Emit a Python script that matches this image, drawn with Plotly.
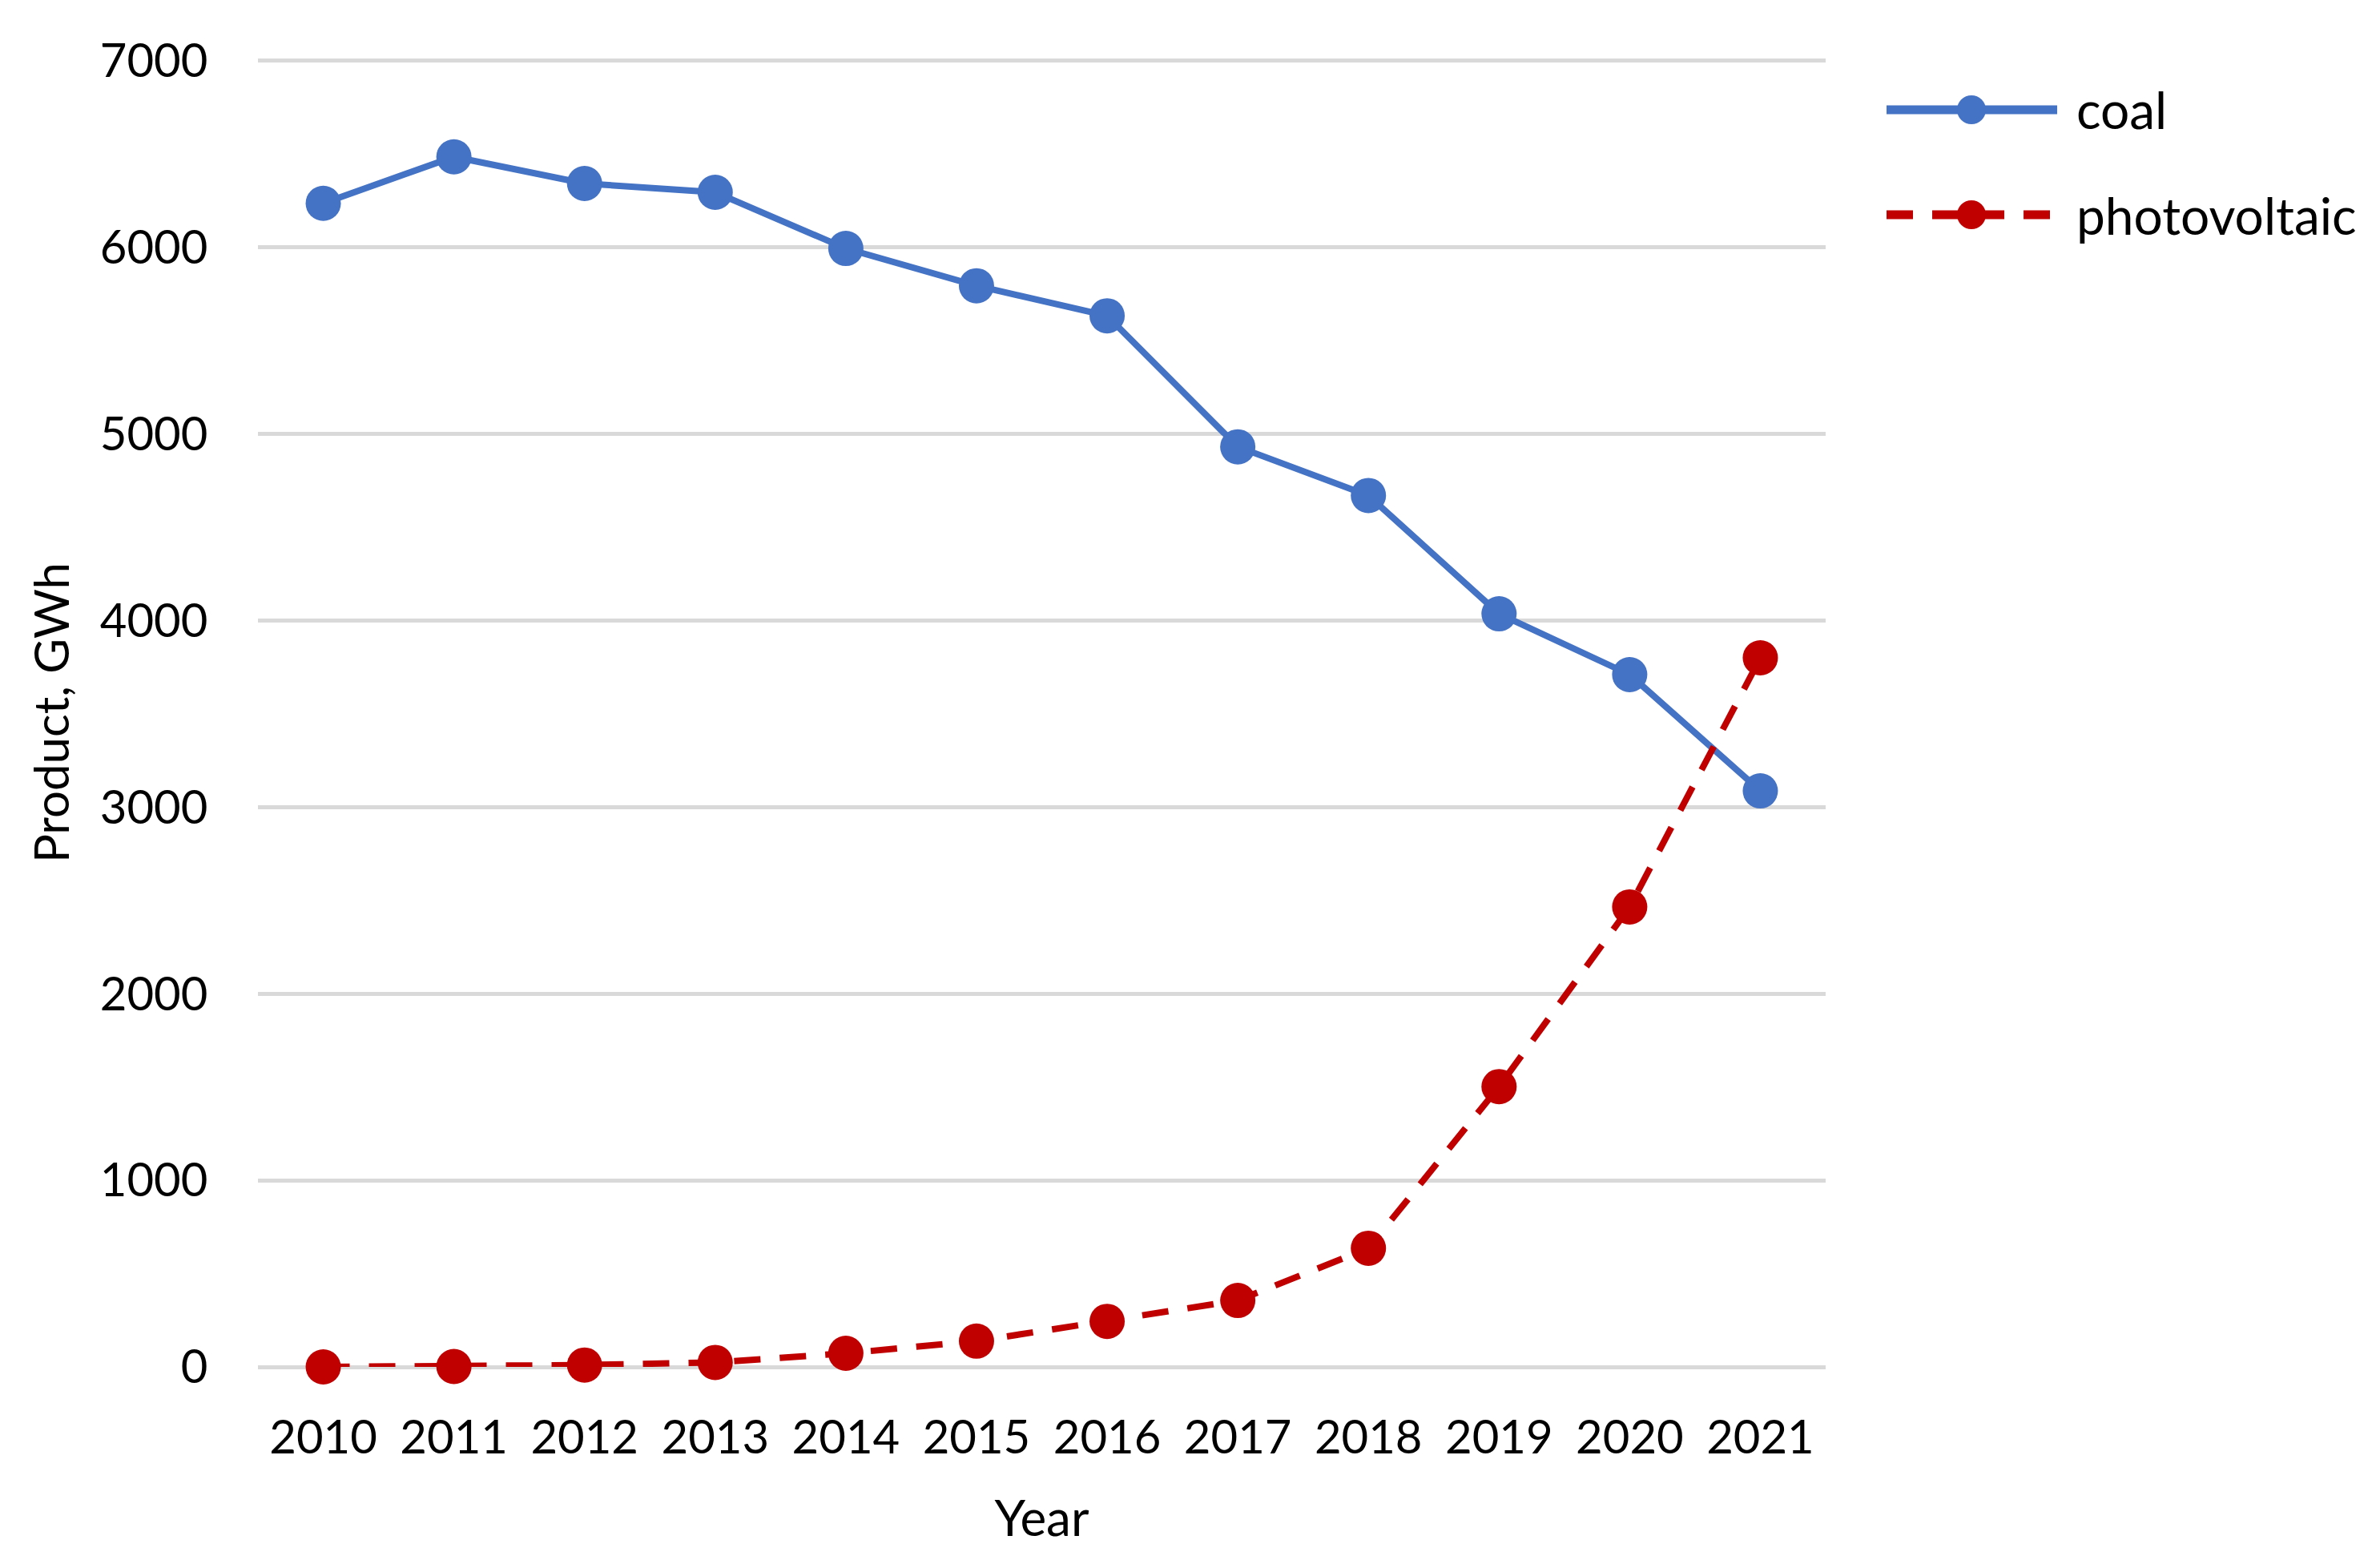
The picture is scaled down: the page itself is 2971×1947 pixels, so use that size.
import plotly.graph_objects as go

years = ["2010", "2011", "2012", "2013", "2014", "2015", "2016", "2017", "2018", "2019", "2020", "2021"]
coal = [6236, 6485, 6342, 6295, 5994, 5794, 5633, 4931, 4670, 4036, 3710, 3087]
photovoltaic = [0, 2, 10, 24, 73, 138, 244, 356, 636, 1502, 2465, 3800]
y_ticks = [0, 1000, 2000, 3000, 4000, 5000, 6000, 7000]

BLUE = "#4472C4"
RED = "#C00000"
FONT = "Lato"

W, H = 2971, 1947
L, R, T, B = 322, 2971 - 2279, 73, 1947 - 1706

fig = go.Figure()
fig.add_trace(go.Scatter(
    x=years, y=coal, mode="lines+markers", name="coal",
    line=dict(color=BLUE, width=8),
    marker=dict(color=BLUE, size=44),
    showlegend=False, cliponaxis=False,
))
fig.add_trace(go.Scatter(
    x=years, y=photovoltaic, mode="lines+markers", name="photovoltaic",
    line=dict(color=RED, width=8, dash="33px,24px"),
    marker=dict(color=RED, size=44),
    showlegend=False, cliponaxis=False,
))

pw = W - L - R
ph = H - T - B
def px_x(p):
    return (p - L) / pw
def px_y(p):
    return (H - B - p) / ph

# manual legend
shapes = []
annotations = []
legend_items = [("coal", BLUE, "solid", 137), ("photovoltaic", RED, "33px,24px", 268)]
for name, col, dash, yy in legend_items:
    shapes.append(dict(type="line", xref="paper", yref="paper",
                       x0=px_x(2355), x1=px_x(2568), y0=px_y(yy), y1=px_y(yy),
                       line=dict(color=col, width=11, dash=dash)))
    shapes.append(dict(type="circle", xref="paper", yref="paper",
                       xsizemode="pixel", ysizemode="pixel",
                       xanchor=px_x(2461), yanchor=px_y(yy),
                       x0=-18, x1=18, y0=-18, y1=18,
                       fillcolor=col, line=dict(color=col, width=0)))
    annotations.append(dict(text=name, xref="paper", yref="paper",
                            x=px_x(2590), y=px_y(yy), xanchor="left", yanchor="middle",
                            showarrow=False, font=dict(family=FONT, size=64, color="black")))

fig.update_layout(
    width=W, height=H,
    margin=dict(l=L, r=R, t=T, b=B),
    paper_bgcolor="white", plot_bgcolor="white",
    font=dict(family=FONT, size=58, color="black"),
    shapes=shapes, annotations=annotations,
    showlegend=False,
)
fig.update_xaxes(
    type="category", range=[-0.5, 11.5], showgrid=False, showline=False, zeroline=False,
    ticks="outside", ticklen=37, tickcolor="rgba(0,0,0,0)",
    tickfont=dict(family=FONT, size=58, color="black"),
    title=dict(text="Year", font=dict(family=FONT, size=62, color="black"), standoff=48),
)
fig.update_yaxes(
    range=[0, 7012], tickvals=y_ticks, showgrid=True, gridcolor="#D9D9D9", gridwidth=5,
    zeroline=True, zerolinecolor="#D9D9D9", zerolinewidth=5, showline=False,
    ticks="outside", ticklen=50, tickcolor="rgba(0,0,0,0)",
    tickfont=dict(family=FONT, size=58, color="black"),
    title=dict(text="Product, GWh", font=dict(family=FONT, size=60, color="black"), standoff=18),
)

fig.write_html("out.html", config={"displayModeBar": False},
               post_script="document.body.style.margin='0';")
